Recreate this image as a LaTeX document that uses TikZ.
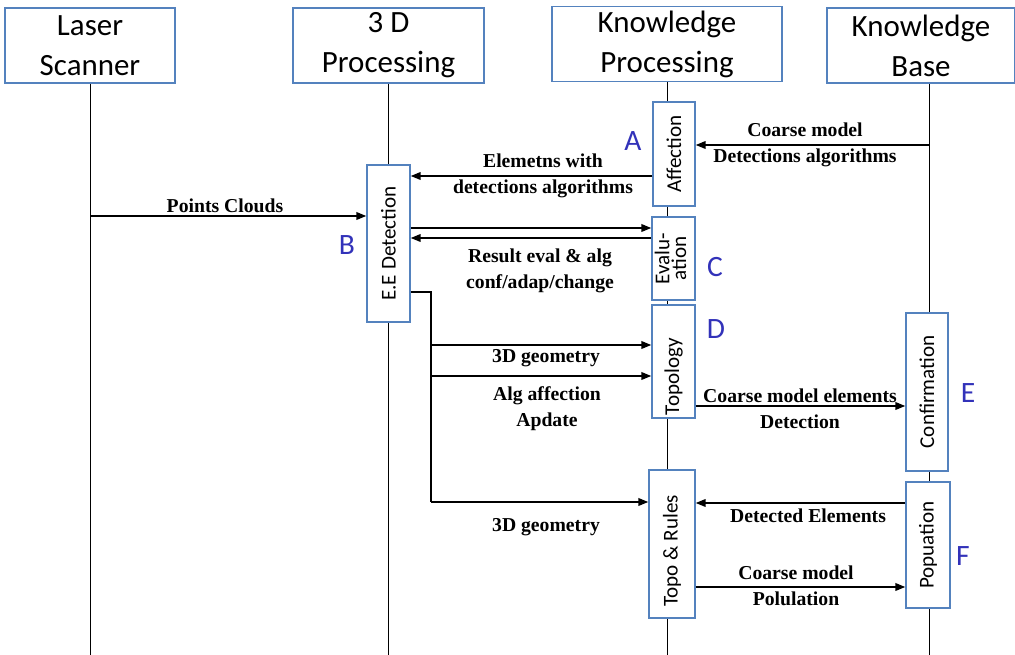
\documentclass[tikz,border=0pt]{standalone}
\usepackage{fontspec}
\setmainfont{Liberation Serif}
\newfontfamily\calfont{Carlito}
\usetikzlibrary{positioning}
\usetikzlibrary{calc,arrows.meta}
\definecolor{boxblue}{RGB}{84,130,190}
\definecolor{tagblue}{RGB}{50,50,185}
\tikzset{
head/.style={draw=boxblue,line width=1.1pt,fill=white,align=center,inner sep=0pt,minimum height=1.875cm,font=\calfont\fontsize{22}{28.5}\selectfont},
act/.style={draw=boxblue,line width=1.1pt,fill=white,inner sep=0pt,font=\calfont\fontsize{15}{15}\selectfont},
msg/.style={line width=0.9pt,-{Triangle[length=7pt,width=5.5pt]}},
wire/.style={line width=0.9pt},
life/.style={line width=0.7pt},
lbl/.style={font=\bfseries\fontsize{14}{18.5}\selectfont,align=center,inner sep=0pt},
tag/.style={font=\calfont\fontsize{21}{21}\selectfont,text=tagblue,inner sep=0pt}
}
\begin{document}
\begin{tikzpicture}[x=0.025cm,y=-0.025cm]
\useasboundingbox (0,0) rectangle (1015,655);
% heads
\node[head,minimum width=4.25cm] (ls) at (90,45.5) {Laser\\Scanner};
\node[head,minimum width=4.775cm] (tdp) at (388.5,45.5) {3 D\\Processing};
\node[head,minimum width=5.75cm] (kp) at (667,44) {Knowledge\\Processing};
\node[head,minimum width=4.7cm] (kb) at (921,45.5) {Knowledge\\Base};
% life lines
\coordinate (lsend) at (90,655);
\coordinate (tdpend) at (388,655);
\coordinate (kpend) at (667,655);
\coordinate (kbend) at (929,655);
\draw[life] (ls.south -| lsend)--(lsend);
\draw[life] (tdp.south -| tdpend)--(tdpend);
\draw[life] (kp.south -| kpend)--(kpend);
\draw[life] (kb.south -| kbend)--(kbend);
% activations
\node[act,minimum width=1.05cm,minimum height=2.6cm] (aff) at (674,154) {\rotatebox{90}{Affection}};
\node[act,minimum width=1.075cm,minimum height=3.925cm] (eed) at (388.5,243.5) {\rotatebox{90}{E.E Detection}};
\node[act,minimum width=1.075cm,minimum height=2.075cm] (eval) at (673.5,258.5) {\rotatebox{90}{\begin{tabular}{@{}c@{}}Evalu-\\[-3pt]ation\end{tabular}}};
\node[act,minimum width=1.075cm,minimum height=2.825cm] (topo) at (673.5,361.5) {\rotatebox{90}{Topology\hspace*{0.75cm}}};
\node[act,minimum width=1.15cm,minimum height=3.7cm] (trules) at (672,544) {\rotatebox{90}{Topo \& Rules\hspace*{0.35cm}}};
\node[act,minimum width=1.05cm,minimum height=3.95cm] (conf) at (927,392) {\rotatebox{90}{Confirmation}};
\node[act,minimum width=1.1cm,minimum height=3.15cm] (popu) at (928,545) {\rotatebox{90}{Popuation}};
% tags
\node[tag] (tA) at (633,141) {A};
\node[tag] (tB) at (347,245) {B};
\node[tag] (tC) at (715,267) {C};
\node[tag] (tD) at (716,329) {D};
\node[tag] (tE) at (968,393) {E};
\node[tag] (tF) at (963,556) {F};
% messages
\draw[msg] (kbend |- 0,145)--(aff.east |- 0,145);
\node[lbl] (m1) at (805,145) {Coarse model\\Detections algorithms};
\draw[msg] (aff.west |- 0,176)--(eed.east |- 0,176);
\node[lbl] (m2) at (543,176) {Elemetns with\\detections algorithms};
\draw[msg] (lsend |- 0,216)--(eed.west |- 0,216);
\node[lbl] (m3) at (225,206) {Points Clouds};
\draw[msg] (eed.east |- 0,228)--(eval.west |- 0,228);
\draw[msg] (eval.west |- 0,238)--(eed.east |- 0,238);
\node[lbl] (m4) at (540,271) {Result eval \& alg\\conf/adap/change};
\coordinate (bend) at (431,292);
\draw[wire] (eed.east |- bend)--(bend)--(bend |- 0,502);
\foreach \y in {345,376} {
\draw[msg] (bend |- 0,\y)--(topo.west |- 0,\y);}
\draw[msg] (bend |- 0,502)--(trules.west |- 0,502);
\node[lbl] (m5) at (546,358) {3D geometry};
\node[lbl] (m6) at (547,409) {Alg affection\\Apdate};
\node[lbl] (m7) at (546,527) {3D geometry};
\draw[msg] (topo.east |- 0,406)--(conf.west |- 0,406);
\node[lbl] (m8) at (800,408.5) {Coarse model elements\\Detection};
\draw[msg] (popu.west |- 0,503)--(trules.east |- 0,503);
\node[lbl] (m9) at (808,516) {Detected Elements};
\draw[msg] (trules.east |- 0,587)--(popu.west |- 0,587);
\node[lbl] (m10) at (796,585.5) {Coarse model\\Polulation};
\end{tikzpicture}
\end{document}
